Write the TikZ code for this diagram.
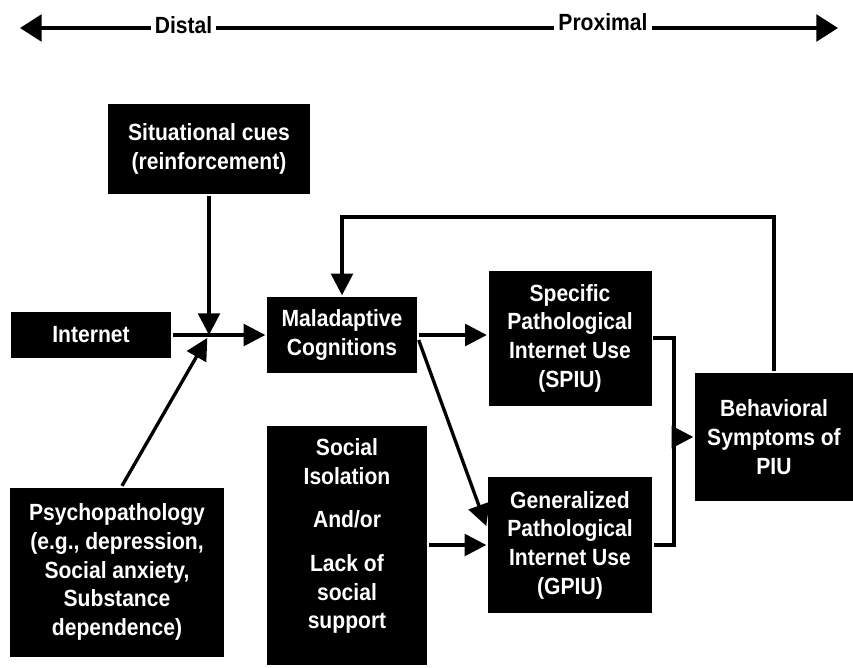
\documentclass[tikz,border=0pt]{standalone}
\usepackage{fontspec}
\setmainfont{Liberation Sans}[FakeStretch=0.9]
\usetikzlibrary{arrows.meta}

\tikzset{
  blk/.style={fill=black, text=white, align=center, inner sep=0pt,
    font=\bfseries\fontsize{20}{24.5}\selectfont},
  lbl/.style={fill=white, text=black, anchor=base, inner xsep=1.2mm, inner ysep=0.5mm,
    font=\bfseries\fontsize{20}{24.5}\selectfont}
}

\begin{document}
\begin{tikzpicture}[x=0.3mm, y=-0.3mm, line width=1mm, >={Triangle[width=6.5mm,length=6.5mm]}]
                \useasboundingbox (0,0) rectangle (853,667);
                \coordinate (lend) at (20,28);
                \coordinate (rend) at (838,28);
                \coordinate (jn) at (209,335);
                \coordinate (mrg) at (674,437);
                \coordinate (fb) at (560,217);

                % Distal - proximal axis
                \draw[<->, line width=1.1mm, >={Triangle[width=8mm,length=6.5mm]}] (lend) -- (rend);
                \node[lbl] (dist) at (183.5,33) {Distal};
                \node[lbl] (prox) at (603,30) {Proximal};

                % Boxes
                \node[blk, minimum width=60.6mm, minimum height=27mm] (sit) at (209,149) {Situational cues\\(reinforcement)};
                \node[blk, minimum width=48mm, minimum height=13.8mm] (inet) at (91,335) {Internet};
                \node[blk, minimum width=45mm, minimum height=22.8mm] (mal) at (342,335) {Maladaptive\\Cognitions};
                \node[blk, minimum width=64.2mm, minimum height=50.7mm] (psy) at (117,572) {Psychopathology\\(e.g., depression,\\Social anxiety,\\Substance\\dependence)};
                \node[blk, minimum width=48mm, minimum height=71.7mm] (soc) at (347,545) {Social\\Isolation\\[4.5mm]And/or\\[4.5mm]Lack of\\social\\support\\[-5pt]\mbox{}};
                \node[blk, minimum width=48.9mm, minimum height=40.5mm] (spiu) at (570,338) {Specific\\Pathological\\Internet Use\\(SPIU)};
                \node[blk, minimum width=49.2mm, minimum height=40.8mm] (gpiu) at (570,545) {Generalized\\Pathological\\Internet Use\\(GPIU)};
                \node[blk, minimum width=47.4mm, minimum height=38.4mm] (beh) at (774,437) {Behavioral\\Symptoms of\\PIU};

                % Arrows
                \draw[->] (sit) -- (jn);
                \draw[->, shorten >=1mm] ([xshift=1.5mm]psy.north) -- (jn);
                \draw[->] (inet) -- (mal);
                \draw[->] (mal) -- (mal -| spiu.west);
                \draw[->] ([yshift=-1.5mm]mal.east) -- ([yshift=5.7mm]gpiu.west);
                \draw[->] (soc) -- (gpiu);
                \draw (spiu.east) -| (mrg) |- (gpiu.east);
                \draw[->] (mrg) -- (beh);
                \draw[->] (beh.north) |- (fb) -| (mal.north);
\end{tikzpicture}
\end{document}
